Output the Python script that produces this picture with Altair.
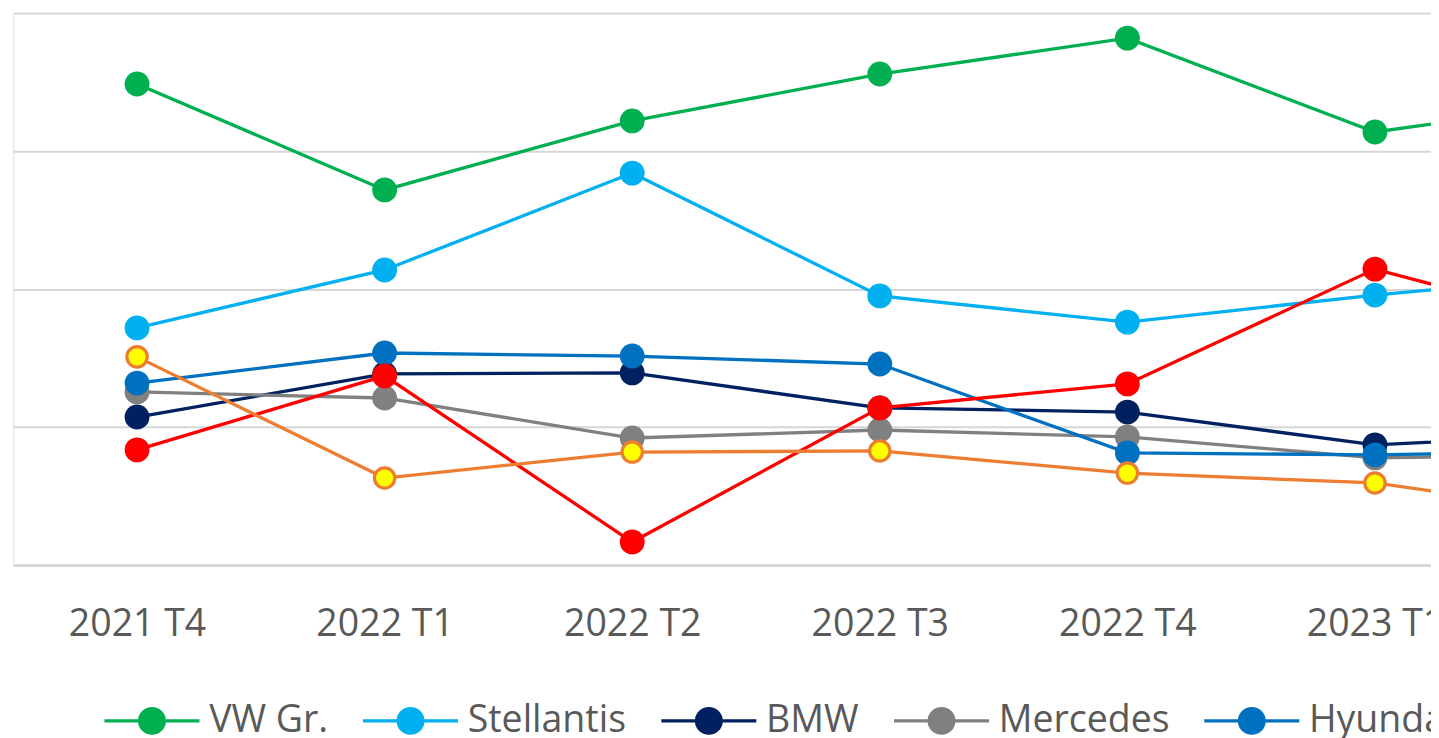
import altair as alt
import pandas as pd

quarters = ["2021 T4", "2022 T1", "2022 T2", "2022 T3", "2022 T4", "2023 T1", "2023 T2"]
brands = ["VW Gr.", "Stellantis", "BMW", "Mercedes", "Hyundai", "Tesla", "Renault"]

vw_gr = [17.43, 13.59, 16.09, 17.79, 19.09, 15.69, 16.96]
stellantis = [8.59, 10.69, 14.20, 9.75, 8.80, 9.78, 10.62]
bmw = [5.36, 6.92, 6.96, 5.69, 5.54, 4.35, 4.78]
mercedes = [6.27, 6.05, 4.60, 4.89, 4.64, 3.88, 4.02]
hyundai = [6.59, 7.68, 7.57, 7.28, 4.06, 3.99, 4.13]
tesla = [4.17, 6.85, 0.83, 5.69, 6.56, 10.72, 8.33]
renault = [7.54, 3.15, 4.09, 4.13, 3.33, 2.97, 1.70]

colors = ["#00B050", "#00B0F0", "#002060", "#808080", "#0070C0", "#FF0000", "#ED7D31"]
renault_fill = "#FFFF00"

series = [vw_gr, stellantis, bmw, mercedes, hyundai, tesla, renault]
rows = []
for b, vals in zip(brands, series):
    for i, v in enumerate(vals):
        rows.append({"marque": b, "idx": i, "trimestre": quarters[i], "part": v})
df = pd.DataFrame(rows)

FONT = "Open Sans"
K = 1447 / 1439          # page is shrunk to the window width; pre-compensate
STEP = 247.6 * K
PAD_L = 13.2 * K - 8
W = 1431 - PAD_L
H = 555
FS = 37.7

label_expr = "[" + ",".join("'" + q + "'" for q in quarters) + "][datum.value]"

x = alt.X(
    "idx:Q",
    scale=alt.Scale(domain=[-0.5, -0.5 + W / STEP], nice=False, zero=False),
    axis=alt.Axis(
        values=list(range(6)), labelExpr=label_expr, title=None, grid=False,
        ticks=False, tickSize=0, labelPadding=70.5, labelBaseline="alphabetic",
        labelFontSize=FS, labelColor="#595959", labelFont=FONT,
        domainColor="#D9D9D9", domainWidth=3, labelFlush=False, labelOverlap=False,
    ),
)
y = alt.Y(
    "part:Q",
    scale=alt.Scale(domain=[0, 20], nice=False),
    axis=alt.Axis(values=[0, 5, 10, 15, 20], labels=False, ticks=False, domain=False,
                  title=None, gridColor="#D6D6D6", gridWidth=2),
)

sym_path = "M-1,0L1,0M0.26,0A0.26,0.26,0,1,1,-0.26,0A0.26,0.26,0,1,1,0.26,0Z"

legend = alt.Legend(
    orient="none", legendX=90, legendY=662, direction="horizontal", columns=7,
    title=None, symbolType=sym_path, symbolSize=9126, symbolStrokeWidth=3.2,
    labelFontSize=FS, labelFont=FONT, labelColor="#595959", labelOffset=8,
    columnPadding=28, labelLimit=600, padding=0, symbolOpacity=1,
)

color = alt.Color("marque:N", scale=alt.Scale(domain=brands, range=colors), legend=legend)

base = alt.Chart(df)

lines = base.mark_line(strokeWidth=3.3, clip=True).encode(
    x=x, y=y, color=color, detail="marque:N", order="idx:Q"
)
points = base.transform_filter(alt.datum.marque != "Renault").mark_circle(
    size=625, opacity=1, clip=True
).encode(x=x, y=y, color=color)
points_r = base.transform_filter(alt.datum.marque == "Renault").mark_circle(
    size=420, opacity=1, clip=True, fill=renault_fill, stroke=colors[6], strokeWidth=3.2
).encode(x=x, y=y)

chart = alt.layer(lines, points, points_r).properties(
    width=W, height=H,
    autosize=alt.AutoSizeParams(type="none"),
    padding={"left": PAD_L, "top": 3, "right": 0, "bottom": 177},
).configure_view(strokeWidth=0).configure(font=FONT)

chart.save("out.html", embed_options={"renderer": "svg", "actions": False})
